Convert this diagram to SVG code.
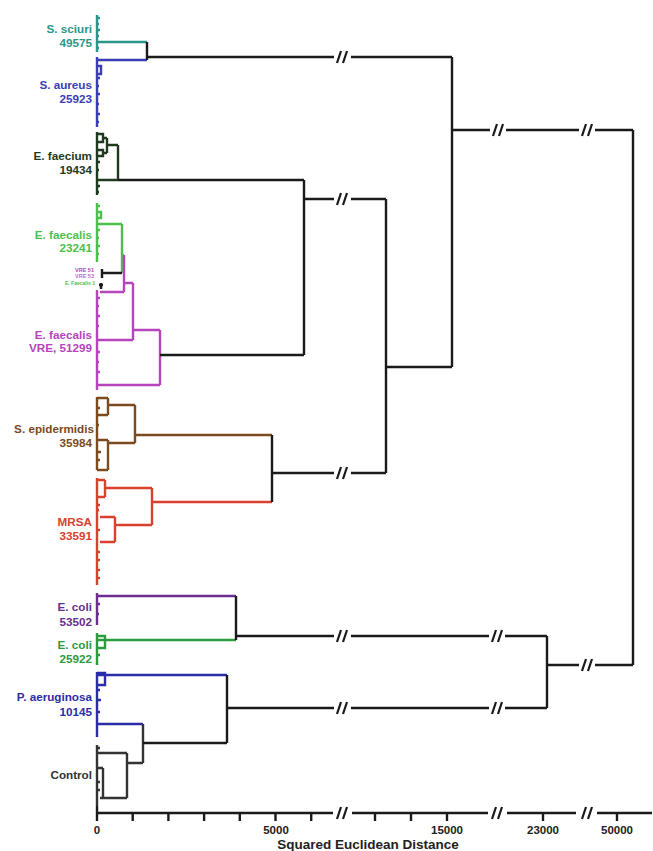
<svg xmlns="http://www.w3.org/2000/svg" width="653" height="851" viewBox="0 0 653 851">
<defs>
<style>
.l{fill:none;stroke-width:2.4;stroke-linejoin:miter;stroke-linecap:butt}
.k{stroke:#1a1a1a}
.t{font-family:"Liberation Sans",Arial,sans-serif;font-weight:bold;font-size:11.7px;text-anchor:end}
.ax{font-family:"Liberation Sans",Arial,sans-serif;font-weight:bold;font-size:11.5px;text-anchor:middle;fill:#222}
.ttl{font-family:"Liberation Sans",Arial,sans-serif;font-weight:bold;font-size:13.5px;text-anchor:middle;fill:#222}
.sm{font-family:"Liberation Sans",Arial,sans-serif;font-weight:bold;text-anchor:end}
.br{stroke:#1a1a1a;stroke-width:2.2;fill:none}
</style>
<path id="brk" d="M-5,6 L-1,-6 M1,6 L5,-6"/>
</defs>
<rect width="653" height="851" fill="#ffffff"/>

<g id="s-sciuri">
<path class="l" stroke="#2a968a" d="M97,15 V52 M97,18 h3 M97,24 h2 M97,30 h3 M97,36 h2 M97,48 h2 M97,42 H147"/>
<text class="t" fill="#2a968a" x="92" y="33">S. sciuri</text>
<text class="t" fill="#2a968a" x="92" y="47">49575</text>
</g>

<g id="s-aureus">
<path class="l" stroke="#3a3db5" d="M97,57 V127 M97,60 H147 M97,66 h4 v8 h-4 M97,78 h3 M97,86 h2 M97,94 h3 M97,104 h2 M97,114 h3 M97,122 h2"/>
<text class="t" fill="#3a3db5" x="92" y="89">S. aureus</text>
<text class="t" fill="#3a3db5" x="92" y="103">25923</text>
</g>

<g id="e-faecium">
<path class="l" stroke="#1f3a1f" d="M97,132 V195 M97,134 h6 v8 h-6 M103,138 h4 M97,150 h6 v6 h-6 M103,153 h4 M107,138 V153 M107,145 H118 M97,162 h3 M97,170 h2 M97,186 h3 M97,192 h2 M97,180 H118 M118,145 V180"/>
<text class="t" fill="#1f3a1f" x="92" y="160">E. faecium</text>
<text class="t" fill="#1f3a1f" x="92" y="174">19434</text>
</g>

<g id="e-faecalis-23241">
<path class="l" stroke="#4cbf4c" d="M97,203 V262 M97,206 h3 M97,212 h4 v6 h-4 M97,230 h3 M97,238 h2 M97,246 h3 M97,254 h2 M97,224 H122 M122,224 V273 M122,255 H124"/>
<text class="t" fill="#4cbf4c" x="92" y="239">E. faecalis</text>
<text class="t" fill="#4cbf4c" x="92" y="252">23241</text>
</g>

<g id="vre-small">
<path class="l k" d="M102,269 V278 M102,273 H122 M99,285 h4 M101,283 v6"/>
<text class="sm" fill="#b544bd" font-size="5.5" x="94" y="272">VRE 51</text>
<text class="sm" fill="#b544bd" font-size="5.5" x="94" y="278" opacity="0.8">VRE 53</text>
<text class="sm" fill="#4cbf4c" font-size="5" x="95" y="285">E. Faecalis 1</text>
</g>

<g id="e-faecalis-vre">
<path class="l" stroke="#b544bd" d="M97,290 V390 M100,292 H124 M124,255 V292 M124,283 H133 M133,283 V340 M97,340 H133 M133,330 H160 M160,330 V385 M97,385 H160 M97,298 h3 M97,306 h2 M97,316 h3 M97,326 h2 M97,352 h3 M97,362 h2 M97,372 h3"/>
<text class="t" fill="#b544bd" x="92" y="339">E. faecalis</text>
<text class="t" fill="#b544bd" x="92" y="352">VRE, 51299</text>
</g>

<g id="s-epidermidis">
<path class="l" stroke="#7b4a1e" d="M97,397 V470 M97,398 H108 M108,398 V415 M97,415 H108 M108,405 H135 M97,408 h3 M97,425 h2 M97,440 H108 M108,440 V470 M97,470 H108 M108,443 H135 M97,452 h4 M97,460 h3 M135,405 V443 M135,435 H272"/>
<text class="t" fill="#7b4a1e" x="94" y="433">S. epidermidis</text>
<text class="t" fill="#7b4a1e" x="92" y="447">35984</text>
</g>

<g id="mrsa">
<path class="l" stroke="#d9402e" d="M97,478 V585 M97,480 H105 M105,480 V497 M97,497 H105 M105,488 H152 M100,517 H115 M115,517 V542 M100,542 H115 M115,525 H152 M152,488 V525 M152,502 H272 M97,505 h3 M97,510 h2 M97,530 h3 M97,552 h3 M97,560 h3 M97,570 h3 M97,578 h3"/>
<text class="t" fill="#d9402e" x="92" y="526">MRSA</text>
<text class="t" fill="#d9402e" x="92" y="540">33591</text>
</g>

<g id="e-coli-53502">
<path class="l" stroke="#6b2d8e" d="M97,593 V625 M97,596 H236 M97,604 h3 M97,614 h2"/>
<text class="t" fill="#6b2d8e" x="92" y="611">E. coli</text>
<text class="t" fill="#6b2d8e" x="92" y="626">53502</text>
</g>

<g id="e-coli-25922">
<path class="l" stroke="#2e9a3e" d="M97,633 V665 M97,640 H236 M97,636 h8 v12 h-8 M97,655 h3"/>
<text class="t" fill="#2e9a3e" x="92" y="649">E. coli</text>
<text class="t" fill="#2e9a3e" x="92" y="663">25922</text>
</g>

<g id="p-aeruginosa">
<path class="l" stroke="#2b2ca8" d="M97,672 V737 M97,675 H227 M97,673 h8 v12 h-8 M97,690 h3 M97,700 h4 M97,712 h3 M97,724 H143"/>
<text class="t" fill="#2b2ca8" x="92" y="701">P. aeruginosa</text>
<text class="t" fill="#2b2ca8" x="92" y="716">10145</text>
</g>

<g id="control">
<path class="l" stroke="#333333" d="M97,745 V806 M97,753 H127 M127,753 V798 M100,798 H127 M97,748 h3 M103,768 V797 M97,768 H103 M97,782 h3 M97,790 h3 M127,763 H143 M143,724 V763"/>
<text class="t" fill="#333333" x="92" y="779">Control</text>
</g>

<g id="connectors">
<path class="l k" d="M147,42 V60 M147,57 H334 M351,57 H452 M452,57 V367 M452,130 H490 M506,130 H579 M595,130 H633 M633,130 V665"/>
<path class="l k" d="M118,180 H304 M304,180 V355 M160,355 H304 M304,199 H334 M351,199 H386 M386,199 V473 M386,367 H452"/>
<path class="l k" d="M272,435 V502 M272,473 H334 M351,473 H386"/>
<path class="l k" d="M236,596 V640 M236,636 H334 M351,636 H489 M505,636 H547 M547,636 V708 M547,665 H579 M595,665 H633"/>
<path class="l k" d="M143,743 H227 M227,675 V743 M227,708 H334 M351,708 H489 M505,708 H547"/>
<g class="br">
<use href="#brk" x="342" y="57"/>
<use href="#brk" x="498" y="130"/>
<use href="#brk" x="587" y="130"/>
<use href="#brk" x="342" y="199"/>
<use href="#brk" x="342" y="473"/>
<use href="#brk" x="342" y="636"/>
<use href="#brk" x="497" y="636"/>
<use href="#brk" x="587" y="665"/>
<use href="#brk" x="342" y="708"/>
<use href="#brk" x="497" y="708"/>
</g>
</g>

<g id="axis">
<path class="l k" d="M97,813 H333 M352,813 H488 M507,813 H576 M597,813 H652 M97,806 V821 M132.7,813 v8 M168.4,813 v8 M204.1,813 v8 M239.8,813 v8 M275.5,813 v8 M311.2,813 v8 M375,813 v8 M411,813 v8 M447,813 v8 M543,813 v8 M617,813 v8"/>
<g class="br">
<use href="#brk" x="342" y="813"/>
<use href="#brk" x="497" y="813"/>
<use href="#brk" x="587" y="813"/>
</g>
<text class="ax" x="97" y="834">0</text>
<text class="ax" x="276" y="834">5000</text>
<text class="ax" x="447" y="834">15000</text>
<text class="ax" x="543" y="834">23000</text>
<text class="ax" x="617" y="834">50000</text>
<text class="ttl" x="368" y="849">Squared Euclidean Distance</text>
</g>
</svg>
